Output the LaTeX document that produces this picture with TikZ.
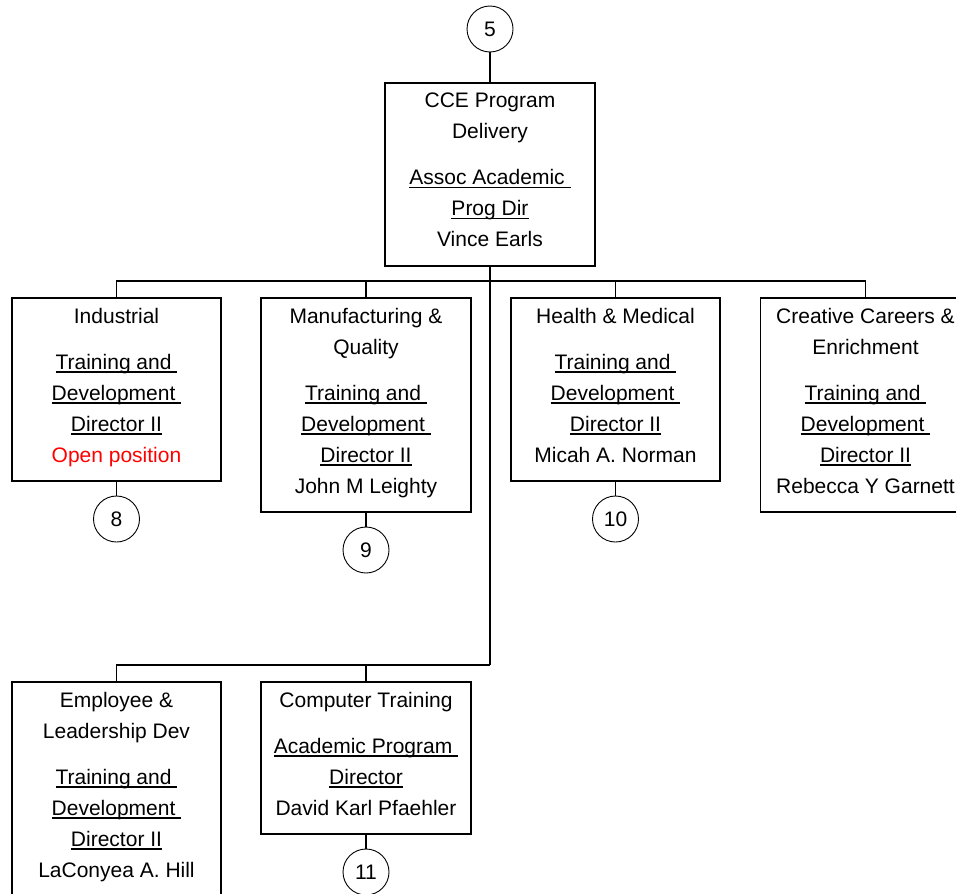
\documentclass[tikz,border=0pt]{standalone}
\usepackage{fontspec}
\setmainfont{Liberation Sans}
\newcommand\uln[1]{\leavevmode\setbox0\hbox{#1}\rlap{\rule[-3.4pt]{\wd0}{1.4pt}}\copy0}
\newcommand\dph{\rule[-8.5pt]{0pt}{8.5pt}}
\begin{document}
\begin{tikzpicture}[x=1pt,y=-1pt,
  box/.style={draw, line width=1.6pt, inner sep=0pt, align=center, anchor=north,
    minimum width=210pt, font=\fontsize{21}{31}\selectfont},
  num/.style={draw, circle, line width=0.9pt, minimum size=46pt, inner sep=0pt,
    font=\fontsize{21}{24}\selectfont},
  link/.style={line width=1.4pt}]
\useasboundingbox (0,0) rectangle (956,894);
\clip (0,0) rectangle (956,894);

\node[num] (c5) at (490,29) {5};
\node[box, minimum height=183pt] (top) at (490,82)
  {CCE Program\\Delivery\\[15pt]\uln{Assoc Academic }\\\uln{Prog Dir}\\Vince Earls\dph};

\node[box, minimum height=183pt, minimum width=209pt] (ind) at (116.5,297)
  {Industrial\\[15pt]\uln{Training and }\\\uln{Development }\\\uln{Director II}\\\textcolor{red}{Open position}\dph};
\node[box, minimum height=214pt] (man) at (366,297)
  {Manufacturing \&\\Quality\\[15pt]\uln{Training and }\\\uln{Development }\\\uln{Director II}\\John M Leighty\dph};
\node[box, minimum height=183pt, minimum width=209pt] (hea) at (615.5,297)
  {Health \& Medical\\[15pt]\uln{Training and }\\\uln{Development }\\\uln{Director II}\\Micah A. Norman\dph};
\node[box, minimum height=214pt] (cre) at (865.5,297)
  {Creative Careers \&\\Enrichment\\[15pt]\uln{Training and }\\\uln{Development }\\\uln{Director II}\\Rebecca Y Garnett\dph};

\node[box, minimum height=214pt, minimum width=209pt] (emp) at (116.5,681)
  {Employee \&\\Leadership Dev\\[15pt]\uln{Training and }\\\uln{Development }\\\uln{Director II}\\LaConyea A. Hill\dph};
\node[box, minimum height=152pt] (com) at (366,681)
  {Computer Training\\[15pt]\uln{Academic Program }\\\uln{Director}\\David Karl Pfaehler\dph};

\node[num] (c8) at (116.5,519) {8};
\node[num] (c9) at (366,550) {9};
\node[num] (c10) at (615.5,519) {10};
\node[num] (c11) at (366,872) {11};

\coordinate (j1) at (490,281);
\coordinate (j2) at (490,665);

\draw[link] (c5) -- (top.north);
\draw[link] (top.south) -- (j2);
\draw[link] (ind.north) |- (j1) -| (cre.north);
\draw[link] (man.north) -- (man.north |- j1);
\draw[link] (hea.north) -- (hea.north |- j1);
\draw[link] (emp.north) |- (j2);
\draw[link] (com.north) -- (com.north |- j2);

\draw[link] (ind.south) -- (c8);
\draw[link] (man.south) -- (c9);
\draw[link] (hea.south) -- (c10);
\draw[link] (com.south) -- (c11);
\end{tikzpicture}
\end{document}
